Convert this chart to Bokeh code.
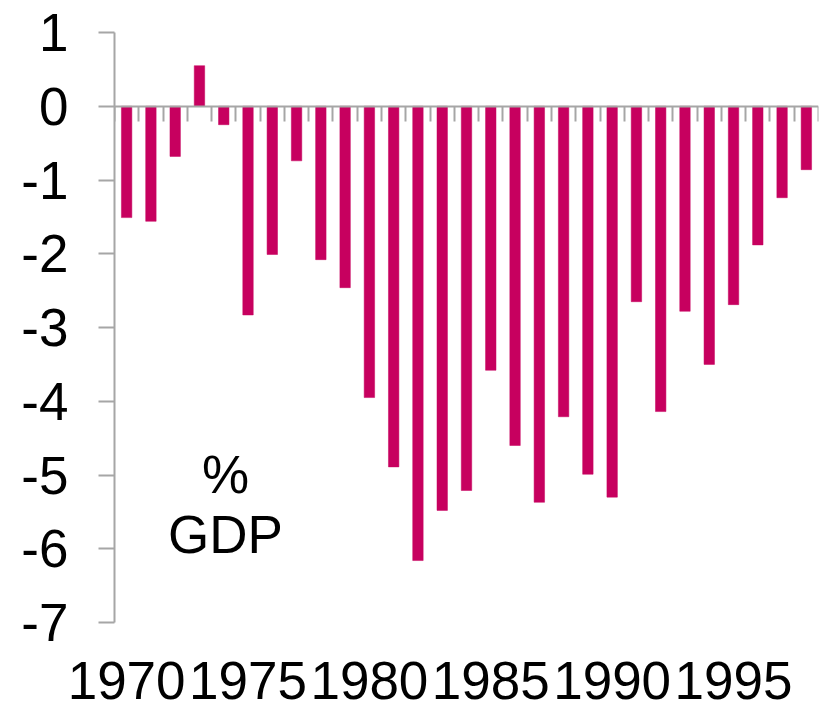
from bokeh.plotting import figure
from bokeh.models import LinearAxis, FixedTicker, Range1d, Label, ColumnDataSource
from bokeh.embed import file_html
from bokeh.resources import INLINE

# ---- data ----
years = list(range(1970, 1999))
balance = [-1.51, -1.56, -0.68, 0.55, -0.25, -2.83, -2.01, -0.74, -2.08, -2.46,
           -3.95, -4.89, -6.16, -5.48, -5.21, -3.58, -4.60, -5.37, -4.21, -4.99,
           -5.30, -2.65, -4.14, -2.78, -3.50, -2.69, -1.88, -1.24, -0.86]
y_ticks = [-7, -6, -5, -4, -3, -2, -1, 0, 1]
x_label_years = [1970, 1975, 1980, 1985, 1990, 1995]
unit_lines = ["%", "GDP"]

BAR = "#C7005F"
GREY = "#A6A6A6"
FONT = "Liberation Sans"
FS = "53px"

src = ColumnDataSource(dict(year=years, val=balance))

p = figure(width=825, height=707,
           x_range=Range1d(years[0] - 0.5, years[-1] + 0.5),
           y_range=Range1d(min(y_ticks), max(y_ticks)),
           output_backend="svg", toolbar_location=None,
           x_axis_location=None, y_axis_location=None,
           min_border_left=114, min_border_top=32,
           min_border_right=7, min_border_bottom=85)
p.outline_line_color = None
p.xgrid.visible = False
p.ygrid.visible = False
p.background_fill_color = "white"
p.border_fill_color = "white"

p.vbar(x="year", top="val", bottom=0, width=0.43, source=src,
       fill_color=BAR, line_color=BAR, line_width=0.5)

# y axis
yax = LinearAxis(ticker=FixedTicker(ticks=y_ticks))
yax.axis_line_color = GREY
yax.axis_line_width = 2
yax.major_tick_line_color = GREY
yax.major_tick_line_width = 2
yax.major_tick_out = 16
yax.major_tick_in = 0
yax.minor_tick_line_color = None
yax.major_label_standoff = 30
yax.major_label_text_font = FONT
yax.major_label_text_font_size = FS
yax.major_label_text_color = "black"
yax.major_label_overrides = {t: str(t) for t in y_ticks}
p.add_layout(yax, "left")

# category axis at zero with boundary ticks
bounds = [y - 0.5 for y in years] + [years[-1] + 0.5]
zax = LinearAxis(ticker=FixedTicker(ticks=bounds), fixed_location=0)
zax.axis_line_color = GREY
zax.axis_line_width = 2
zax.major_tick_line_color = GREY
zax.major_tick_line_width = 2
zax.major_tick_out = 15
zax.major_tick_in = 0
zax.minor_tick_line_color = None
zax.major_label_text_alpha = 0
zax.major_label_text_font_size = "1px"
p.add_layout(zax, "below")

# year labels at bottom
lax = LinearAxis(ticker=FixedTicker(ticks=x_label_years))
lax.axis_line_color = None
lax.major_tick_line_color = None
lax.minor_tick_line_color = None
lax.major_tick_out = 0
lax.major_tick_in = 0
lax.major_label_standoff = 39
lax.major_label_text_line_height = 0.7
lax.major_label_text_font = FONT
lax.major_label_text_font_size = FS
lax.major_label_text_color = "black"
p.add_layout(lax, "below")

for txt, yy in zip(unit_lines, [-4.99, -5.81]):
    p.add_layout(Label(x=1974.07, y=yy, text=txt, text_align="center",
                       text_baseline="middle", text_font=FONT,
                       text_font_size=FS, text_color="black"))

open("out.html", "w").write(file_html(p, INLINE))
